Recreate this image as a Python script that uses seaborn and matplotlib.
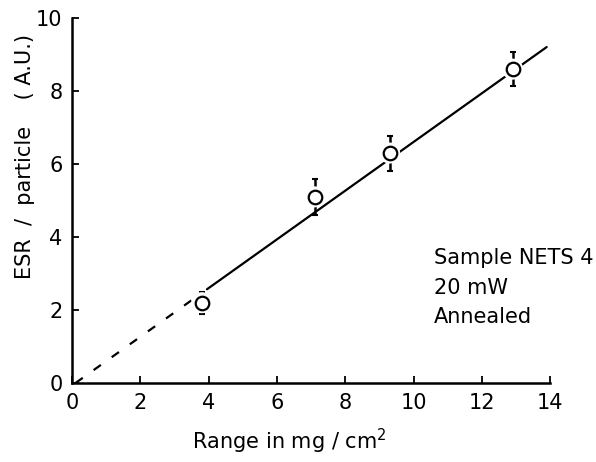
import numpy as np
import pandas as pd
import matplotlib
matplotlib.use("Agg")
import matplotlib.pyplot as plt
import seaborn as sns

# measured points
range_mg = [3.8, 7.1, 9.3, 12.9]
esr = [2.2, 5.1, 6.3, 8.6]
esr_err = [0.3, 0.5, 0.48, 0.47]

# fitted line (through origin region)
fit_slope = 0.667
fit_x0 = 0.1
dash_x = [0.1, 3.6]
solid_x = [3.95, 13.9]

x_ticks = [0, 2, 4, 6, 8, 10, 12, 14]
y_ticks = [0, 2, 4, 6, 8, 10]

sns.set_style("ticks")
plt.rcParams['font.family'] = ['DejaVu Sans']
plt.rcParams['xtick.direction'] = 'in'
plt.rcParams['ytick.direction'] = 'in'
plt.rcParams['text.color'] = 'black'
plt.rcParams['axes.labelcolor'] = 'black'
plt.rcParams['xtick.color'] = 'black'
plt.rcParams['ytick.color'] = 'black'
plt.rcParams['axes.edgecolor'] = 'black'

fig = plt.figure(figsize=(5.96, 4.62), dpi=100)
ax = fig.add_axes([0.121, 0.171, 0.802, 0.79])

fit = pd.DataFrame({
    "x": dash_x + solid_x,
    "seg": ["dash", "dash", "solid", "solid"],
})
fit["y"] = fit_slope * (fit["x"] - fit_x0)

sns.lineplot(data=fit[fit.seg == "dash"], x="x", y="y", ax=ax, color="black",
             lw=1.6, linestyle=(0, (4, 6)), zorder=2)
sns.lineplot(data=fit[fit.seg == "solid"], x="x", y="y", ax=ax, color="black",
             lw=1.6, zorder=2)

ax.errorbar(range_mg, esr, yerr=esr_err, fmt="none", ecolor="black",
            elinewidth=1.8, capsize=2, capthick=1.5, zorder=3)
pts = pd.DataFrame({"x": range_mg, "y": esr})
sns.scatterplot(data=pts, x="x", y="y", ax=ax, s=230, color="white",
                edgecolor="none", zorder=4)
sns.scatterplot(data=pts, x="x", y="y", ax=ax, s=95, facecolor="white",
                edgecolor="black", linewidth=1.6, zorder=5)

ax.set_xlim(0, 14)
ax.set_ylim(0, 10)
ax.set_xticks(x_ticks)
ax.set_yticks(y_ticks)
ax.tick_params(length=5, width=1.3, labelsize=15, pad=7)
for s in ["left", "bottom"]:
    ax.spines[s].set_linewidth(1.8)
sns.despine(ax=ax)

ax.set_xlabel("Range in mg / cm$^2$", fontsize=15)
ax.xaxis.set_label_coords(0.455, -0.12)
ax.set_ylabel("ESR  /  particle    ( A.U.)", fontsize=15)
ax.yaxis.set_label_coords(-0.078, 0.62)

ax.text(10.6, 3.7, "Sample NETS 4\n20 mW\nAnnealed", fontsize=15,
        va="top", ha="left", linespacing=1.6)

fig.savefig("out.png", dpi=100)
